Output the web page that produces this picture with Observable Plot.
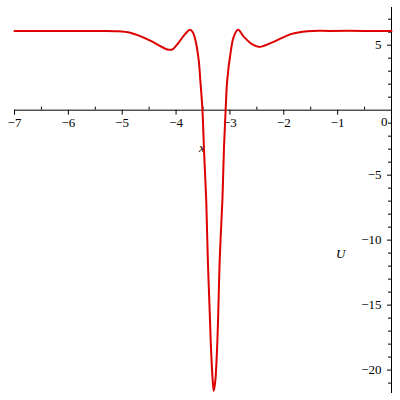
<!DOCTYPE html>
<html>
<head>
<meta charset="utf-8">
<script src="https://cdn.jsdelivr.net/npm/d3@7"></script>
<script src="https://cdn.jsdelivr.net/npm/@observablehq/plot@0.6"></script>
<style>
  html, body { margin: 0; padding: 0; background: #fff; }
  svg text { font-family: "Liberation Serif", "Times New Roman", serif; }
</style>
</head>
<body>
<div id="chart"></div>
<script>
// Curve U(x)
const xs = [-7, -6, -5.4, -5.12, -4.85, -4.47, -4.29, -4.16, -4.07, -3.99, -3.92, -3.82, -3.74, -3.69, -3.64, -3.58, -3.55, -3.51, -3.48, -3.44, -3.41, -3.37, -3.35, -3.32, -3.30, -3.27, -3.24, -3.22, -3.19, -3.14, -3.11, -3.08, -3.05, -2.99, -2.93, -2.85, -2.74, -2.59, -2.45, -2.19, -1.87, -1.56, -1.13, -0.5, 0];
const us = [6.1, 6.1, 6.1, 6.08, 5.95, 5.33, 4.92, 4.67, 4.67, 5.0, 5.38, 5.92, 6.18, 6.0, 5.38, 3.85, 2.31, 0, -3.2, -6.92, -11.54, -16.15, -18.46, -20.77, -21.6, -20.77, -18.46, -16.15, -11.54, -6.92, -2.82, 0, 2.31, 4.36, 5.64, 6.18, 5.64, 5.08, 4.87, 5.26, 5.85, 6.08, 6.1, 6.1, 6.1];

// Axis ticks
const xMajor = [-7, -6, -5, -4, -3, -2, -1];
const xMinor = [-6.5, -5.5, -4.5, -3.5, -2.5, -1.5, -0.5];
const yMajor = [5, -5, -10, -15, -20];
const yMinor = [7, 6, 4, 3, 2, 1, -1, -2, -3, -4, -6, -7, -8, -9, -11, -12, -13, -14, -16, -17, -18, -19, -21];

const data = xs.map((x, i) => ({x, u: us[i]}));
const fmt = d => d < 0 ? "\u2212" + Math.abs(d) : String(d);
const font = "Liberation Serif";

const chart = Plot.plot({
  width: 400,
  height: 400,
  marginLeft: 14,
  marginRight: 9,
  marginTop: 7,
  marginBottom: 7,
  style: {background: "#fff", fontFamily: font},
  x: {domain: [-7, 0], axis: null},
  y: {domain: [-21.8, 7.9], axis: null},
  marks: [
    Plot.ruleY([0], {stroke: "#000", strokeWidth: 1}),
    Plot.ruleX([0], {stroke: "#000", strokeWidth: 1}),
    Plot.ruleX(xMajor, {x: d => d, y1: 0, y2: 0, insetBottom: -5, stroke: "#000"}),
    Plot.ruleX(xMinor, {x: d => d, y1: 0, y2: 0, insetTop: -3, stroke: "#000"}),
    Plot.ruleY(yMajor, {y: d => d, x1: 0, x2: 0, insetLeft: -4, stroke: "#000"}),
    Plot.ruleY(yMinor, {y: d => d, x1: 0, x2: 0, insetLeft: -3, stroke: "#000"}),
    Plot.text(xMajor, {x: d => d, y: 0, text: fmt, dy: 13, fontSize: 13, fontFamily: font, fill: "#000"}),
    Plot.text([0], {x: d => d, y: 0, text: fmt, dy: 12, dx: -4, textAnchor: "end", fontSize: 13, fontFamily: font, fill: "#000"}),
    Plot.text(yMajor, {x: 0, y: d => d, text: fmt, dx: -10, textAnchor: "end", fontSize: 13, fontFamily: font, fill: "#000"}),
    Plot.text(["x"], {frameAnchor: "top", dy: 135, dx: -1, fontSize: 13, fontFamily: font, fontStyle: "italic", fill: "#000"}),
    Plot.text(["U"], {frameAnchor: "right", dx: -46, dy: 53, fontSize: 13, fontFamily: font, fontStyle: "italic", fill: "#000"}),
    Plot.line(data, {x: "x", y: "u", stroke: "#dd0000", strokeWidth: 2, curve: "catmull-rom"})
  ]
});
document.getElementById("chart").appendChild(chart);
</script>
</body>
</html>
